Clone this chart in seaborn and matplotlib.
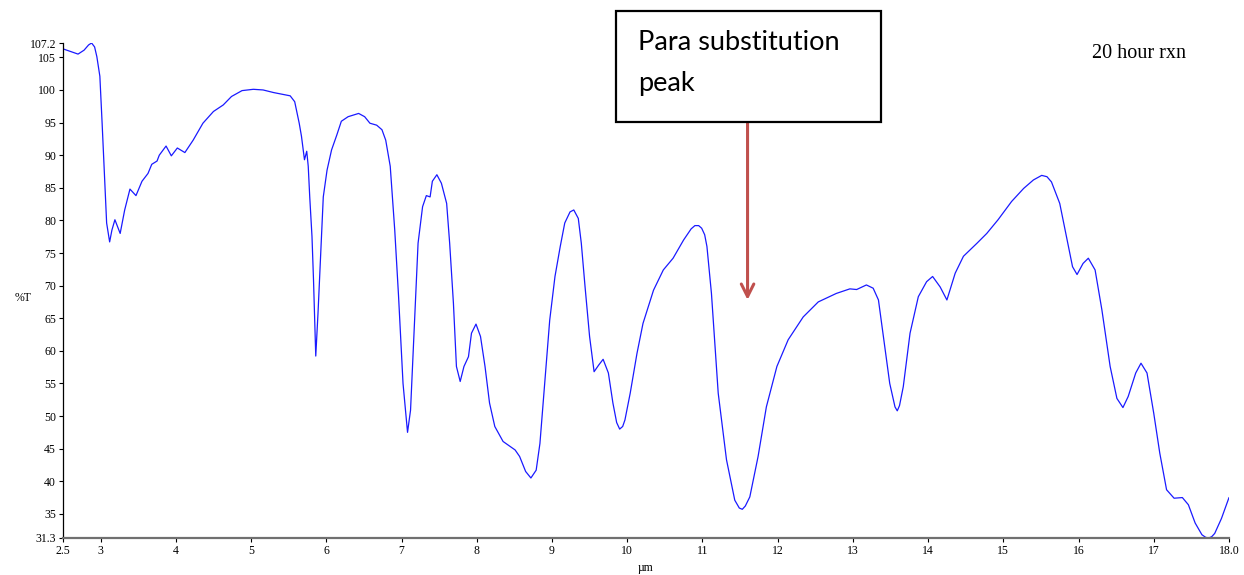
import matplotlib
matplotlib.use("Agg")
import matplotlib.pyplot as plt
from matplotlib.patches import Rectangle
import seaborn as sns
import pandas as pd

# ---- data ----
wavelength_um = [
    2.50, 2.60, 2.70, 2.78, 2.84, 2.88, 2.92, 2.95, 2.99, 3.02, 3.05, 3.08, 3.12, 3.15,
    3.19, 3.26, 3.32, 3.39,
    3.47, 3.55, 3.63, 3.68, 3.75, 3.78, 3.87, 3.94, 4.02, 4.12, 4.23, 4.36, 4.50, 4.63,
    4.74, 4.88, 5.03, 5.16, 5.30, 5.52, 5.58, 5.64, 5.67, 5.71, 5.74, 5.76, 5.78, 5.81,
    5.83, 5.86, 5.89, 5.93, 5.96, 6.01, 6.07, 6.14, 6.20, 6.29, 6.43, 6.51, 6.58, 6.67,
    6.74, 6.79, 6.85, 6.91, 6.96, 7.02, 7.08, 7.12, 7.17, 7.22, 7.28, 7.33, 7.38, 7.41,
    7.47, 7.53, 7.60, 7.64, 7.69, 7.73, 7.78, 7.83, 7.89, 7.93, 7.99, 8.05, 8.11, 8.17,
    8.24, 8.35, 8.51, 8.57, 8.65, 8.72, 8.79, 8.84, 8.91, 8.97, 9.04, 9.11, 9.17, 9.24,
    9.29, 9.35, 9.39, 9.44, 9.50, 9.56, 9.62, 9.68, 9.75, 9.81, 9.86, 9.90, 9.94, 9.97,
    10.04, 10.13, 10.21, 10.35, 10.48, 10.61, 10.75, 10.85, 10.90, 10.95, 10.99, 11.03,
    11.06, 11.12, 11.21, 11.32, 11.43, 11.49, 11.53, 11.57, 11.63, 11.74, 11.85, 11.99,
    12.14, 12.34, 12.54, 12.78, 12.96, 13.05, 13.18,
    13.27, 13.34, 13.40, 13.49, 13.56, 13.59, 13.62, 13.67, 13.76, 13.87, 13.98, 14.06,
    14.16, 14.25, 14.36, 14.47, 14.65, 14.78, 14.93, 15.11, 15.27, 15.40, 15.51, 15.58,
    15.64, 15.75, 15.84, 15.92, 15.98, 16.06, 16.13, 16.22, 16.31, 16.42, 16.51, 16.59,
    16.66, 16.76, 16.83, 16.91, 17.00, 17.08, 17.17, 17.27, 17.38, 17.46, 17.55, 17.64,
    17.69, 17.73, 17.77, 17.81, 17.90, 18.00,
]
transmittance = [
    106.3, 105.9, 105.5, 106.1, 106.9, 107.2, 106.6, 105.1, 102.1, 94.9, 87.3, 79.6,
    76.7, 78.5, 80.1, 78.0, 81.6, 84.8,
    83.8, 86.0, 87.2, 88.6, 89.1, 90.0, 91.4, 89.9, 91.1, 90.4, 92.3, 94.9, 96.7, 97.7,
    99.0, 99.9, 100.1, 100.0, 99.6, 99.1, 98.2, 94.9, 92.9, 89.3, 90.6, 88.3, 83.6, 77.5,
    70.9, 59.2, 65.8, 76.0, 83.6, 87.7, 90.8, 93.1, 95.2, 95.9, 96.4, 95.9, 94.9, 94.6,
    93.9, 92.3, 88.3, 78.5, 68.5, 55.0, 47.5, 50.9, 63.7, 76.5, 82.1, 83.8, 83.6, 86.0,
    87.0, 85.7, 82.6, 76.5, 67.3, 57.6, 55.3, 57.6, 59.1, 62.7, 64.1, 62.2, 57.6, 52.0,
    48.4, 46.1, 44.8, 43.8, 41.5, 40.5, 41.7, 45.8, 56.0, 64.7, 71.4, 76.0, 79.6, 81.3,
    81.6, 80.3, 76.5, 69.8, 62.2, 56.8, 57.8, 58.7, 56.6, 52.0, 49.0, 48.0, 48.4, 49.4,
    53.5, 59.6, 64.2, 69.3, 72.4, 74.2, 77.0, 78.7, 79.2, 79.2, 78.8, 77.8,
    76.0, 68.8, 53.5, 43.3, 37.1, 35.9, 35.7, 36.2, 37.6, 43.8, 51.4, 57.6,
    61.7, 65.2, 67.5, 68.8, 69.5, 69.4, 70.1,
    69.6, 67.8, 62.7, 55.0, 51.4, 50.8, 51.6, 54.5, 62.7, 68.3, 70.6, 71.4,
    69.8, 67.8, 71.9, 74.5, 76.5, 78.0, 80.1, 82.9, 84.9, 86.2, 86.9, 86.7,
    85.9, 82.6, 77.5, 72.9, 71.7, 73.4, 74.2, 72.4, 66.3, 57.6, 52.7, 51.3,
    53.0, 56.6, 58.1, 56.6, 50.4, 44.3, 38.7, 37.4, 37.5, 36.4, 33.6, 31.8,
    31.4, 31.3, 31.5, 32.0, 34.3, 37.5,
]
x_ticks = [2.5, 3, 4, 5, 6, 7, 8, 9, 10, 11, 12, 13, 14, 15, 16, 17, 18]
x_tick_labels = ["2.5", "3", "4", "5", "6", "7", "8", "9", "10", "11", "12", "13",
                 "14", "15", "16", "17", "18.0"]
y_ticks = [31.3, 35, 40, 45, 50, 55, 60, 65, 70, 75, 80, 85, 90, 95, 100, 105, 107.2]
y_tick_labels = ["31.3", "35", "40", "45", "50", "55", "60", "65", "70", "75", "80",
                 "85", "90", "95", "100", "105", "107.2"]
annotation_lines = ["Para substitution", "peak"]
annotation_x = 11.6
corner_text = "20 hour rxn"

df = pd.DataFrame({"um": wavelength_um, "T": transmittance})

sns.set_style("ticks")
plt.rcParams["font.family"] = ["Liberation Serif", "DejaVu Serif"]
plt.rcParams["text.color"] = "black"
plt.rcParams["axes.labelcolor"] = "black"
plt.rcParams["xtick.color"] = "black"
plt.rcParams["ytick.color"] = "black"

fig = plt.figure(figsize=(12.44, 5.75), dpi=100)
ax = fig.add_axes([63 / 1244, 1 - 538 / 575, (1229 - 63) / 1244, (538 - 43) / 575])

sns.lineplot(data=df, x="um", y="T", ax=ax, color="#1a1aff", linewidth=0.9,
             estimator=None, sort=False)

ax.set_xlim(2.5, 18.0)
ax.set_ylim(31.3, 107.2)
ax.set_xticks(x_ticks)
ax.set_xticklabels(x_tick_labels)
ax.set_yticks(y_ticks)
ax.set_yticklabels(y_tick_labels)
ax.tick_params(axis="both", labelsize=8.5, length=3, width=0.8, color="black",
               labelcolor="black", pad=2)
ax.set_xlabel("µm", fontsize=8.5, labelpad=4)
ax.set_ylabel("")
for s in ("top", "right"):
    ax.spines[s].set_visible(False)
ax.spines["left"].set_color("black")
ax.spines["left"].set_linewidth(0.9)
ax.spines["bottom"].set_color("#707070")
ax.spines["bottom"].set_linewidth(1.6)

fig.text(15 / 1244, 1 - 298 / 575, "%T", fontsize=8.5, va="center", ha="left")
fig.text(1092 / 1244, 1 - 53 / 575, corner_text, fontsize=14.5, va="center", ha="left")

# annotation box
box = Rectangle((616 / 1244, 1 - 122 / 575), (881 - 616) / 1244, (122 - 11) / 575,
                transform=fig.transFigure, facecolor="white", edgecolor="black",
                linewidth=1.6, zorder=5)
fig.patches.append(box)
for line, base_px in zip(annotation_lines, [50, 91]):
    fig.text(638 / 1244, 1 - base_px / 575, line, fontsize=19.5, va="baseline",
             ha="left", family=["Lato", "DejaVu Sans"], color="black", zorder=6)

# arrow from box down to the peak region
y_box_bottom = 31.3 + (538 - 122) / 6.52
y_tip = 31.3 + (538 - 300) / 6.52
ax.annotate("", xy=(annotation_x, y_tip), xytext=(annotation_x, y_box_bottom),
            xycoords="data", textcoords="data", annotation_clip=False,
            arrowprops=dict(arrowstyle="->,head_length=0.9,head_width=0.45",
                            color="#c0504d", lw=2.2, shrinkA=0, shrinkB=0))

fig.savefig("out.png", dpi=100)
